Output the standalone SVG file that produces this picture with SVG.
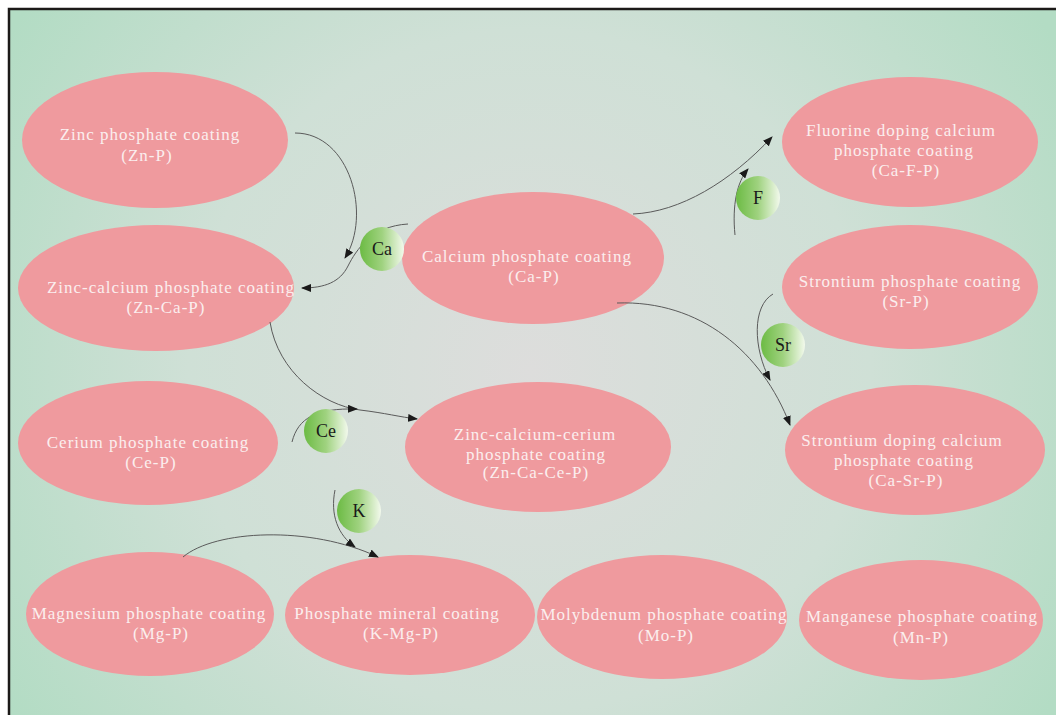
<svg xmlns="http://www.w3.org/2000/svg" width="1056" height="715" viewBox="0 0 1056 715">
<defs>
<radialGradient id="bg" cx="530" cy="370" r="620" gradientUnits="userSpaceOnUse">
<stop offset="0" stop-color="#dddddc"/>
<stop offset="0.55" stop-color="#cfe0d6"/>
<stop offset="1" stop-color="#b3dcc4"/>
</radialGradient>
<linearGradient id="ball" x1="0" y1="0" x2="1" y2="0">
<stop offset="0" stop-color="#6cbb44"/>
<stop offset="0.5" stop-color="#9fd27f"/>
<stop offset="1" stop-color="#f2f9ec"/>
</linearGradient>
<marker id="arr" markerWidth="10" markerHeight="8" refX="9" refY="4" orient="auto" markerUnits="userSpaceOnUse">
<path d="M0,0 L10,4 L0,8 Z" fill="#1a1a1a"/>
</marker>
<style>
.node ellipse{fill:#ef9a9e}
.node text{font-family:"Liberation Serif","Times New Roman",serif;font-size:17px;fill:#fbeeee;text-anchor:middle;letter-spacing:1px}
.ion circle{fill:url(#ball)}
.ion text{font-family:"Liberation Serif","Times New Roman",serif;font-size:18px;fill:#1a1a1a;text-anchor:middle}
.conn path{fill:none;stroke:#5a5a5a;stroke-width:1;marker-end:url(#arr)}
</style>
</defs>
<rect x="0" y="0" width="1056" height="715" fill="#ffffff"/>
<rect x="9" y="9" width="1047" height="706" fill="url(#bg)"/>
<path d="M9,715 L9,9 L1056,9" fill="none" stroke="#1c1a18" stroke-width="2.5"/>

<g id="zn-p" class="node"><ellipse cx="155" cy="140" rx="133" ry="68"/><text x="150" y="140">Zinc phosphate coating</text><text x="147" y="161">(Zn-P)</text></g>
<g id="zn-ca-p" class="node"><ellipse cx="156" cy="288" rx="138" ry="63"/><text x="171" y="293">Zinc-calcium phosphate coating</text><text x="166" y="313">(Zn-Ca-P)</text></g>
<g id="ca-p" class="node"><ellipse cx="533" cy="258" rx="131" ry="66"/><text x="527" y="262">Calcium phosphate coating</text><text x="534" y="282">(Ca-P)</text></g>
<g id="ce-p" class="node"><ellipse cx="148" cy="443" rx="130" ry="62"/><text x="148" y="448">Cerium phosphate coating</text><text x="151" y="468">(Ce-P)</text></g>
<g id="zn-ca-ce-p" class="node"><ellipse cx="538" cy="447" rx="133" ry="65"/><text x="535" y="440">Zinc-calcium-cerium</text><text x="536" y="460">phosphate  coating</text><text x="536" y="478">(Zn-Ca-Ce-P)</text></g>
<g id="ca-f-p" class="node"><ellipse cx="910" cy="142" rx="128" ry="65"/><text x="901" y="136">Fluorine doping calcium</text><text x="904" y="156">phosphate coating</text><text x="906" y="176">(Ca-F-P)</text></g>
<g id="sr-p" class="node"><ellipse cx="910" cy="287" rx="128" ry="62"/><text x="910" y="287">Strontium phosphate coating</text><text x="906" y="307">(Sr-P)</text></g>
<g id="ca-sr-p" class="node"><ellipse cx="915" cy="450" rx="130" ry="65"/><text x="902" y="446">Strontium doping calcium</text><text x="904" y="466">phosphate coating</text><text x="906" y="486">(Ca-Sr-P)</text></g>
<g id="mg-p" class="node"><ellipse cx="150" cy="614" rx="124" ry="62"/><text x="149" y="619">Magnesium phosphate coating</text><text x="161" y="639">(Mg-P)</text></g>
<g id="k-mg-p" class="node"><ellipse cx="410" cy="615" rx="125" ry="60"/><text x="397" y="619">Phosphate mineral coating</text><text x="401" y="639">(K-Mg-P)</text></g>
<g id="mo-p" class="node"><ellipse cx="662" cy="617" rx="125" ry="62"/><text x="664" y="620">Molybdenum phosphate coating</text><text x="666" y="641">(Mo-P)</text></g>
<g id="mn-p" class="node"><ellipse cx="921" cy="620" rx="122" ry="60"/><text x="922" y="622">Manganese phosphate coating</text><text x="921" y="643">(Mn-P)</text></g>

<g id="connectors" class="conn">
<path d="M295,133 C350,133 372,215 345,258"/>
<path d="M408,224 C372,226 356,250 348,266 C340,282 325,288 302,288"/>
<path d="M633,214 C680,212 730,182 772,137"/>
<path d="M735,235 C732,205 737,182 748,169"/>
<path d="M617,303 C700,300 762,352 790,425"/>
<path d="M773,294 C752,306 753,348 770,380"/>
<path d="M270,322 C278,372 322,405 360,410 C385,413 400,417 417,419"/>
<path d="M292,442 C298,418 316,408 357,409"/>
<path d="M183,557 C215,530 310,525 378,557"/>
<path d="M335,490 C330,515 338,535 355,547"/>
</g>

<g id="ion-ca" class="ion"><circle cx="382" cy="249" r="22"/><text x="382" y="255">Ca</text></g>
<g id="ion-f" class="ion"><circle cx="758" cy="198" r="22"/><text x="758" y="204">F</text></g>
<g id="ion-sr" class="ion"><circle cx="783" cy="345" r="22"/><text x="783" y="351">Sr</text></g>
<g id="ion-ce" class="ion"><circle cx="326" cy="431" r="22"/><text x="326" y="437">Ce</text></g>
<g id="ion-k" class="ion"><circle cx="359" cy="511" r="22"/><text x="359" y="517">K</text></g>
</svg>
